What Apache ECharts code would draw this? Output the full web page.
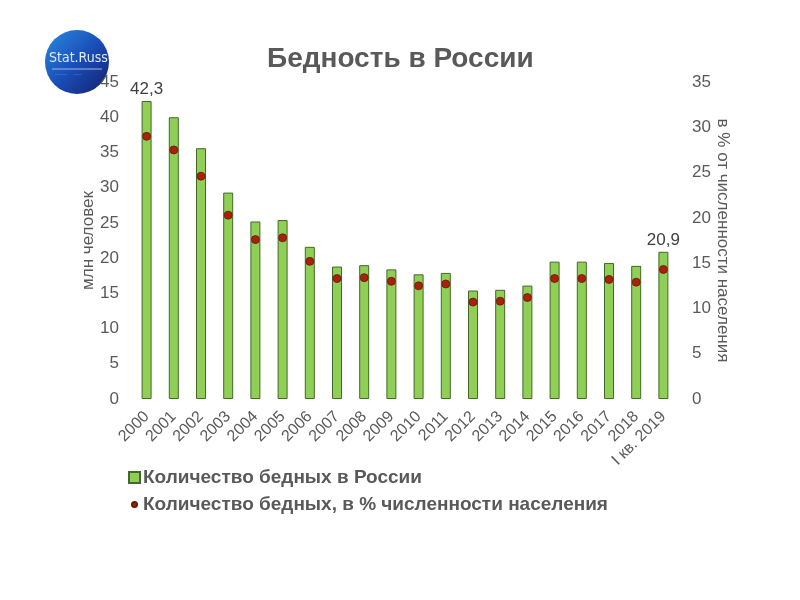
<!DOCTYPE html>
<html><head><meta charset="utf-8">
<script src="https://cdn.jsdelivr.net/npm/echarts@6/dist/echarts.min.js"></script>
<style>html,body{margin:0;padding:0;background:#fff}#c{width:800px;height:600px}</style>
</head><body><div id="c"></div>
<script>
const categories = ['2000','2001','2002','2003','2004','2005','2006','2007','2008','2009','2010','2011','2012','2013','2014','2015','2016','2017','2018','I кв. 2019'];
const poorMillions = [42.3,40.0,35.6,29.3,25.2,25.4,21.6,18.8,19.0,18.4,17.7,17.9,15.4,15.5,16.1,19.5,19.5,19.3,18.9,20.9];
const poorPercent = [29.0,27.5,24.6,20.3,17.6,17.8,15.2,13.3,13.4,13.0,12.5,12.7,10.7,10.8,11.2,13.3,13.3,13.2,12.9,14.3];
const labeledIdx = [0, 19];
const seriesNames = ['Количество бедных в России','Количество бедных, в % численности населения'];

const chart = echarts.init(document.getElementById('c'));
const font = 'Liberation Sans, Arial, sans-serif';
chart.setOption({
  backgroundColor: '#fff',
  animation: false,
  textStyle: {fontFamily: font},
  title: {
    text: 'Бедность в России', left: 262, top: 40,
    textStyle: {fontSize: 28, fontWeight: 'bold', color: '#595959', fontFamily: font}
  },
  graphic: [
    {type: 'circle', shape: {cx: 77, cy: 62, r: 32},
     style: {fill: new echarts.graphic.LinearGradient(0, 0, 1, 1, [
       {offset: 0, color: '#2a8ae0'}, {offset: 0.5, color: '#1a4fb8'}, {offset: 1, color: '#141f6e'}])}},
    {type: 'text', left: 49, top: 51, style: {text: 'Stat.Russ', fill: '#dfe9ff', font: '14px "DejaVu Sans Condensed", "Liberation Sans Narrow", sans-serif'}},
    {type: 'line', shape: {x1: 52, y1: 69, x2: 102, y2: 69}, style: {stroke: '#9fb8ee', lineWidth: 1}},
    {type: 'text', left: 55, top: 72, style: {text: '———      ——', fill: '#7f9ad8', font: '4px sans-serif'}}
  ],
  legend: [
    {data: [seriesNames[0]], orient: 'vertical', left: 123, top: 463, itemWidth: 11, itemHeight: 11, icon: 'rect',
     textStyle: {fontSize: 19, fontWeight: 'bold', color: '#595959', fontFamily: font, padding: [0,0,0,-2]}},
    {data: [seriesNames[1]], orient: 'vertical', left: 126, top: 490, itemWidth: 5, itemHeight: 5, icon: 'circle',
     textStyle: {fontSize: 19, fontWeight: 'bold', color: '#595959', fontFamily: font, padding: [0,0,0,1]}}
  ],
  grid: {left: 133, right: 123, top: 82, bottom: 201},
  xAxis: {
    type: 'category', data: categories,
    axisLine: {show: false}, axisTick: {show: false},
    axisLabel: {rotate: 45, fontSize: 16, color: '#595959', margin: 15, interval: 0}
  },
  yAxis: [
    {type: 'value', min: 0, max: 45, interval: 5,
     name: 'млн человек', nameLocation: 'middle', nameGap: 36, nameRotate: 90, nameMoveOverlap: false,
     nameTextStyle: {fontSize: 17, color: '#595959'},
     axisLine: {show: false}, axisTick: {show: false}, splitLine: {show: false},
     axisLabel: {fontSize: 17, color: '#595959', margin: 14}},
    {type: 'value', min: 0, max: 35, interval: 5,
     name: 'в % от численности населения', nameLocation: 'middle', nameGap: 37, nameRotate: -90, nameMoveOverlap: false,
     nameTextStyle: {fontSize: 17, color: '#595959'},
     axisLine: {show: false}, axisTick: {show: false}, splitLine: {show: false},
     axisLabel: {fontSize: 17, color: '#595959', margin: 15}}
  ],
  series: [
    {name: seriesNames[0], type: 'bar', barWidth: 10,
     data: poorMillions.map((v, i) => ({value: v, label: {show: labeledIdx.includes(i)}})),
     itemStyle: {color: '#8fcf55', borderColor: '#44682a', borderWidth: 1},
     label: {position: 'top', distance: 3, fontSize: 17, color: '#404040',
       formatter: p => String(p.value.toFixed(1)).replace('.', ',')}},
    {name: seriesNames[1], type: 'scatter', yAxisIndex: 1, symbolSize: 8, data: poorPercent,
     itemStyle: {color: '#a8210c', borderColor: '#6e1505', borderWidth: 0.8, opacity: 1}}
  ]
});
</script></body></html>
